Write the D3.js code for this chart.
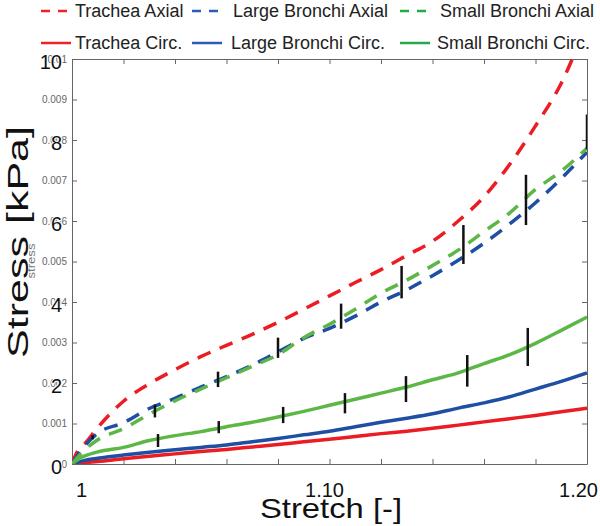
<!DOCTYPE html>
<html><head><meta charset="utf-8">
<script src="https://cdn.jsdelivr.net/npm/d3@7"></script>
<style>body{margin:0;background:#fff}svg{display:block}text{font-family:"Liberation Sans",Arial,sans-serif}</style>
</head><body><svg id="c" width="600" height="526"></svg>
<script>
// ---- data ----
const stretch = [1.0,1.002,1.005,1.01,1.02,1.03,1.04,1.05,1.06,1.07,1.08,1.09,1.10,1.11,1.12,1.13,1.14,1.15,1.16,1.17,1.18,1.19,1.20];
const tracheaAxial  = [0,0.3,0.5,0.9,1.55,1.98,2.33,2.65,2.93,3.2,3.5,3.82,4.15,4.48,4.8,5.15,5.5,6.0,6.6,7.4,8.35,9.4,10.9];
const largeAxial    = [0,0.2,0.45,0.76,1.02,1.37,1.62,1.9,2.16,2.44,2.77,3.1,3.35,3.65,4.0,4.3,4.65,5.03,5.45,5.93,6.45,7.05,7.7];
const smallAxial    = [0,0.15,0.35,0.6,0.87,1.23,1.56,1.85,2.13,2.41,2.7,3.12,3.45,3.82,4.22,4.54,4.9,5.28,5.74,6.2,6.78,7.23,7.8];
const tracheaCirc   = [0,0.015,0.035,0.06,0.13,0.19,0.25,0.31,0.36,0.42,0.48,0.55,0.61,0.68,0.75,0.81,0.88,0.96,1.04,1.12,1.2,1.29,1.38];
const largeCirc     = [0,0.04,0.09,0.14,0.22,0.29,0.35,0.41,0.47,0.55,0.63,0.72,0.81,0.92,1.03,1.13,1.24,1.38,1.51,1.66,1.85,2.04,2.25];
const smallCirc     = [0,0.1,0.2,0.3,0.41,0.58,0.7,0.8,0.92,1.03,1.16,1.3,1.45,1.6,1.75,1.9,2.08,2.25,2.48,2.7,2.98,3.3,3.63];

const axialErrX    = [1.008,1.0322,1.0567,1.080,1.1045,1.128,1.152,1.1763,1.2];
const axialErrMean = [0.66,1.31,2.09,2.87,3.65,4.49,5.42,6.52,8.2];
const axialErrSD   = [0.05,0.16,0.19,0.25,0.31,0.4,0.48,0.62,0.43];
const circErrX     = [1.0334,1.057,1.082,1.106,1.1297,1.1535,1.177];
const circErrMean  = [0.58,0.91,1.21,1.5,1.85,2.3,2.89];
const circErrSD    = [0.16,0.15,0.2,0.25,0.32,0.39,0.47];

const seriesNames  = ["Trachea Axial","Large Bronchi Axial","Small Bronchi Axial","Trachea Circ.","Large Bronchi Circ.","Small Bronchi Circ."];
const seriesValues = [tracheaAxial,largeAxial,smallAxial,tracheaCirc,largeCirc,smallCirc];
const seriesDashed = [true,true,true,false,false,false];
const seriesColors = ["#ec1c24","#1e4fa3","#5cb746","#ec1c24","#1e4fa3","#5cb746"];
const legendColors = ["#ee2228","#2a5cb8","#24aa4a","#ee2228","#2a5cb8","#24aa4a"];

const xTickLabels = ["1","1.10","1.20"];
const xTickValues = [1,1.1,1.2];
const yBigLabels  = ["0","2","4","6","8","10"];
const yBigValues  = [0,2,4,6,8,10];
const ySmallLabels = ["0","0.001","0.002","0.003","0.004","0.005","0.006","0.007","0.008","0.009","0.01"];
const ySmallValues = [0,1,2,3,4,5,6,7,8,9,10];

// ---- layout ----
const L=72,R=587,T=59,B=464;
const svg=d3.select("#c");
const x=d3.scaleLinear().domain([1,1.2]).range([L,R]);
const y=d3.scaleLinear().domain([0,10]).range([B,T]);

svg.append("clipPath").attr("id","clip").append("rect").attr("x",L).attr("y",T).attr("width",R-L).attr("height",B-T);

// frame with inward ticks
const axCol="#666";
const minor=d3.range(1,1.2001,0.02);
function styleAxis(g){g.select(".domain").attr("stroke",axCol);g.selectAll(".tick line").attr("stroke",axCol);g.selectAll("text").remove();}
svg.append("g").attr("transform",`translate(0,${B})`).call(d3.axisBottom(x).tickValues(minor).tickSizeInner(-5).tickSizeOuter(0)).call(styleAxis);
svg.append("g").attr("transform",`translate(0,${T})`).call(d3.axisTop(x).tickValues(minor).tickSizeInner(-5).tickSizeOuter(0)).call(styleAxis);
svg.append("g").attr("transform",`translate(${L},0)`).call(d3.axisLeft(y).tickValues(ySmallValues).tickSizeInner(-5).tickSizeOuter(0)).call(styleAxis);
svg.append("g").attr("transform",`translate(${R},0)`).call(d3.axisRight(y).tickValues(ySmallValues).tickSizeInner(-5).tickSizeOuter(0)).call(styleAxis);

// small gray labels
svg.append("g").selectAll("text").data(ySmallValues).join("text")
  .attr("x",L-5).attr("y",d=>y(d)).attr("dy","0.35em").attr("text-anchor","end")
  .attr("font-size",10).attr("fill","#666").text((d,i)=>ySmallLabels[i]);

// big y labels with white halo
svg.append("g").selectAll("text").data(yBigValues).join("text")
  .attr("x",L-10).attr("y",d=>y(d)+3).attr("dy","0.35em").attr("text-anchor","end")
  .attr("font-size",20).attr("fill","#111").attr("stroke","#fff").attr("stroke-width",2).attr("paint-order","stroke")
  .text((d,i)=>yBigLabels[i]);

// x labels
const xAnchors=["start","middle","end"], xOff=[4,-5,11];
svg.append("g").selectAll("text").data(xTickValues).join("text")
  .attr("x",(d,i)=>x(d)+xOff[i]).attr("y",497).attr("text-anchor",(d,i)=>xAnchors[i])
  .attr("font-size",20).attr("fill","#111").text((d,i)=>xTickLabels[i]);

// titles
svg.append("text").attr("x",331).attr("y",518).attr("text-anchor","middle").attr("font-size",28).attr("fill","#111")
  .attr("textLength",142).attr("lengthAdjust","spacingAndGlyphs").text("Stretch [-]");
svg.append("text").attr("transform","translate(28,242) rotate(-90)").attr("text-anchor","middle").attr("font-size",29)
  .attr("fill","#111").attr("textLength",232).attr("lengthAdjust","spacingAndGlyphs").text("Stress [kPa]");
svg.append("text").attr("transform","translate(35,261) rotate(-90)").attr("text-anchor","middle").attr("font-size",10)
  .attr("fill","#777").attr("textLength",35).attr("lengthAdjust","spacingAndGlyphs").text("stress");

// lines
const line=d3.line().x((d,i)=>x(stretch[i])).y(d=>y(d)).curve(d3.curveMonotoneX);
const plot=svg.append("g").attr("clip-path","url(#clip)");
const order=[3,4,5,0,1,2];
order.forEach(k=>{
  plot.append("path").datum(seriesValues[k]).attr("d",line).attr("fill","none")
    .attr("stroke",seriesColors[k]).attr("stroke-width",3.5)
    .attr("stroke-dasharray",seriesDashed[k]?"14,10":null);
});

// error bars
const eb=svg.append("g").attr("clip-path","url(#clip)").attr("stroke","#111").attr("stroke-width",2.5);
eb.selectAll(".a").data(axialErrX).join("line").attr("class","a")
  .attr("x1",d=>x(d)).attr("x2",d=>x(d))
  .attr("y1",(d,i)=>y(axialErrMean[i]-axialErrSD[i])).attr("y2",(d,i)=>y(axialErrMean[i]+axialErrSD[i]));
eb.selectAll(".c").data(circErrX).join("line").attr("class","c")
  .attr("x1",d=>x(d)).attr("x2",d=>x(d))
  .attr("y1",(d,i)=>y(circErrMean[i]-circErrSD[i])).attr("y2",(d,i)=>y(circErrMean[i]+circErrSD[i]));

// legend
const legX=[41,192,400], textX=[75,233,440,75,231,437], rowY=[11,43];
const lg=svg.append("g");
seriesNames.forEach((n,k)=>{
  const col=k%3,row=Math.floor(k/3), yy=rowY[row];
  lg.append("line").attr("x1",legX[col]).attr("x2",legX[col]+(seriesDashed[k]?27:30)).attr("y1",yy).attr("y2",yy)
    .attr("stroke",legendColors[k]).attr("stroke-width",2.5).attr("stroke-dasharray",seriesDashed[k]?"9,8":null);
  lg.append("text").attr("x",textX[k]).attr("y",yy).attr("dy","0.35em").attr("font-size",18).attr("fill","#222").text(n);
});
</script></body></html>
